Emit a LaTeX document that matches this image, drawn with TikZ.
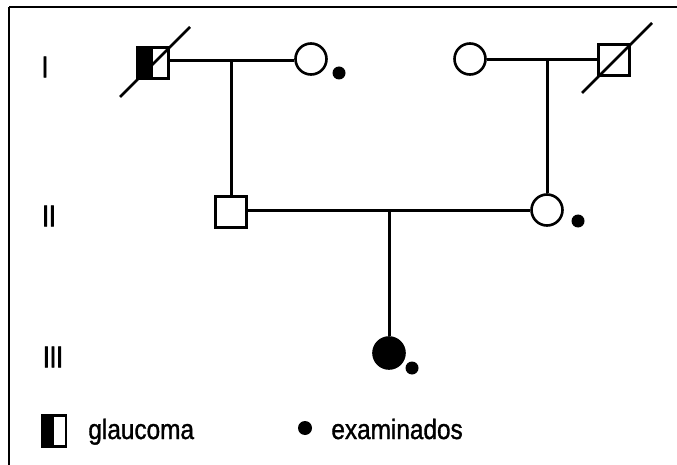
\documentclass[tikz,border=0pt]{standalone}
\usepackage{fontspec}
\setmainfont{Liberation Sans}
\newfontfamily\legfont[FakeStretch=0.87,FakeBold=1.2]{Liberation Sans}
\newfontfamily\genfont[FakeStretch=0.8,FakeBold=2.2]{Liberation Sans}
\begin{document}
\begin{tikzpicture}[x=1pt,y=-1pt,
  line width=2.8pt,
  male/.style={draw,rectangle,minimum size=31pt,inner sep=0pt,fill=white,line width=2.6pt},
  female/.style={draw,circle,minimum size=31pt,inner sep=0pt,fill=white,line width=2.6pt},
  affectedf/.style={female,fill=black},
  exdot/.style={circle,fill=black,inner sep=0pt,minimum size=13pt},
  gen/.style={font=\genfont\fontsize{30}{30}\selectfont,inner sep=0pt},
  legtext/.style={font=\legfont\fontsize{28}{28}\selectfont,inner sep=0pt,anchor=base west},
  rel/.style={line width=3pt},
  dead/.style={line width=2.7pt}]
\useasboundingbox (0,0) rectangle (677,465);
% frame
\draw[line width=2.8pt] (9,7) -- (677,7);
\draw[line width=2.4pt] (9,7) -- (9,465);
% generation labels
\node[gen] (gI) at (45,67) {I};
\node[gen] (gII) at (49,216) {II};
\node[gen] (gIII) at (53,357) {III};
% generation I
\node[male] (I1) at (153,63) {};
\fill (I1.north west) rectangle (I1.south);
\node[male,fill=none] at (153,63) {};
\node[female] (I2) at (311,59) {};
\node[exdot] (d1) at (339,73) {};
\node[female] (I3) at (470,59) {};
\node[male] (I4) at (614,60) {};
\coordinate (m1) at (231,61);
\coordinate (m2) at (547,60);
\draw[rel] (I1.east |- m1) -- (I2.west |- m1);
\draw[rel] (I3.east |- m2) -- (I4.west |- m2);
\coordinate (s1a) at (120,97);
\coordinate (s1b) at (190,27);
\coordinate (s4a) at (582,93);
\coordinate (s4b) at (652,23);
\draw[dead] (s1a) -- (s1b);
\draw[dead] (s4a) -- (s4b);
% generation II
\node[male] (II1) at (231,212) {};
\node[female] (II2) at (547,210) {};
\node[exdot] (d2) at (578,221) {};
\coordinate (m3) at (389,211);
\draw[rel] (m1) -- (II1.north);
\draw[rel] (m2) -- (II2.north);
\draw[rel] (II1.east |- m3) -- (II2.west |- m3);
% generation III
\node[affectedf] (III1) at (389,353) {};
\node[exdot] (d3) at (412,368) {};
\draw[rel] (m3) -- (III1.north);
% legend
\node[draw,rectangle,minimum width=24pt,minimum height=31pt,inner sep=0pt,line width=2.2pt] (lg) at (54,431) {};
\fill (lg.north west) rectangle (lg.south);
\node[legtext] (lgt) at (87,439) {glaucoma};
\node[exdot,minimum size=14pt] (ld) at (305,428) {};
\node[legtext] (ldt) at (330,439) {examinados};
\end{tikzpicture}
\end{document}
